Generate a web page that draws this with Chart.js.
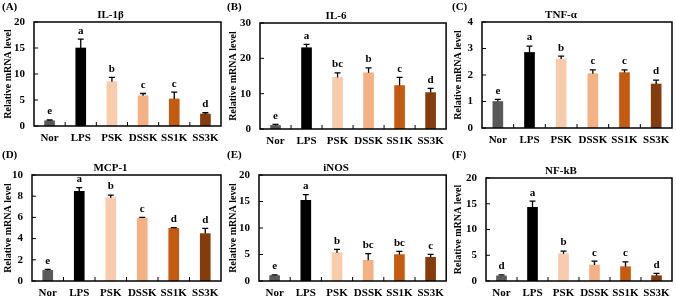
<!DOCTYPE html>
<html>
<head>
<meta charset="utf-8">
<script src="https://cdn.jsdelivr.net/npm/chart.js@4/dist/chart.umd.min.js"></script>
<style>
  body { margin: 0; background: #fff; }
  #wrap { position: relative; width: 676px; height: 299px; }
  canvas { position: absolute; }
</style>
</head>
<body>
<div id="wrap">
  <canvas id="cA" width="225" height="148" style="left:0;top:0"></canvas>
  <canvas id="cB" width="225" height="148" style="left:225px;top:0"></canvas>
  <canvas id="cC" width="226" height="148" style="left:450px;top:0"></canvas>
  <canvas id="cD" width="225" height="151" style="left:0;top:148px"></canvas>
  <canvas id="cE" width="225" height="151" style="left:225px;top:148px"></canvas>
  <canvas id="cF" width="226" height="151" style="left:450px;top:148px"></canvas>
</div>
<script>
const categories = ['Nor', 'LPS', 'PSK', 'DSSK', 'SS1K', 'SS3K'];

const il1bMean = [1.0, 15.0, 8.5, 5.8, 5.2, 2.3];
const il1bErr = [0.15, 1.7, 0.85, 0.45, 1.3, 0.25];
const il1bLetters = ['e', 'a', 'b', 'c', 'c', 'd'];

const il6Mean = [1.0, 23.0, 14.6, 15.9, 12.3, 10.3];
const il6Err = [0.3, 0.95, 1.3, 1.4, 2.3, 1.2];
const il6Letters = ['e', 'a', 'bc', 'b', 'c', 'd'];

const tnfMean = [1.0, 2.85, 2.6, 2.05, 2.09, 1.66];
const tnfErr = [0.08, 0.24, 0.11, 0.14, 0.1, 0.15];
const tnfLetters = ['e', 'a', 'b', 'c', 'c', 'd'];

const mcpMean = [1.0, 8.46, 7.86, 5.94, 4.97, 4.47];
const mcpErr = [0.1, 0.35, 0.25, 0.06, 0.06, 0.5];
const mcpLetters = ['e', 'a', 'b', 'c', 'd', 'd'];

const inosMean = [1.0, 15.2, 5.35, 3.9, 5.0, 4.47];
const inosErr = [0.15, 1.1, 0.6, 1.25, 0.6, 0.55];
const inosLetters = ['e', 'a', 'b', 'bc', 'bc', 'c'];

const nfkbMean = [1.0, 14.3, 5.3, 3.1, 2.77, 1.03];
const nfkbErr = [0.2, 1.2, 0.5, 0.75, 0.95, 0.45];
const nfkbLetters = ['d', 'a', 'b', 'c', 'c', 'd'];

const yMaxes = [20, 30, 4, 10, 20, 20];
const ySteps = [5, 10, 1, 2, 5, 5];

const barColors = ['#595959', '#000000', '#F8CBAD', '#F4B183', '#C55A11', '#843C0C'];
const serif = '"Liberation Serif", "Times New Roman", serif';

// per panel: canvas id, label, title, plot box edges inside the canvas
const panels = [
  { id: 'cA', tag: '(A)', title: 'IL-1β', mean: il1bMean, err: il1bErr, letters: il1bLetters, L: 34, R: 221, T: 22, B: 126 },
  { id: 'cB', tag: '(B)', title: 'IL-6', mean: il6Mean, err: il6Err, letters: il6Letters, L: 35, R: 222, T: 23, B: 129 },
  { id: 'cC', tag: '(C)', title: 'TNF-α', mean: tnfMean, err: tnfErr, letters: tnfLetters, L: 32, R: 222, T: 22, B: 128 },
  { id: 'cD', tag: '(D)', title: 'MCP-1', mean: mcpMean, err: mcpErr, letters: mcpLetters, L: 32, R: 221, T: 27, B: 133 },
  { id: 'cE', tag: '(E)', title: 'iNOS', mean: inosMean, err: inosErr, letters: inosLetters, L: 34, R: 222, T: 27, B: 133 },
  { id: 'cF', tag: '(F)', title: 'NF-kB', mean: nfkbMean, err: nfkbErr, letters: nfkbLetters, L: 36, R: 222, T: 30, B: 133 },
];

const decor = {
  id: 'decor',
  afterDatasetsDraw(chart, args, opts) {
    const ctx = chart.ctx;
    const { left, right, top, bottom } = chart.chartArea;
    const xs = chart.scales.x;
    const ys = chart.scales.y;
    const meta = chart.getDatasetMeta(0);
    ctx.save();
    ctx.strokeStyle = '#000';
    ctx.fillStyle = '#000';

    // error bars + letters
    ctx.lineWidth = 1.3;
    ctx.font = 'bold 11px ' + serif;
    ctx.textAlign = 'center';
    ctx.textBaseline = 'bottom';
    meta.data.forEach((bar, i) => {
      const yTop = ys.getPixelForValue(opts.mean[i] + opts.err[i]);
      const yBar = ys.getPixelForValue(opts.mean[i]);
      ctx.beginPath();
      ctx.moveTo(bar.x, yBar);
      ctx.lineTo(bar.x, yTop);
      ctx.moveTo(bar.x - 3, yTop);
      ctx.lineTo(bar.x + 3, yTop);
      ctx.stroke();
      ctx.fillText(opts.letters[i], bar.x, yTop - 3);
    });

    // plot frame
    ctx.lineWidth = 1.5;
    ctx.strokeRect(left, top, right - left, bottom - top);

    // inward ticks
    ctx.lineWidth = 1;
    ctx.beginPath();
    ys.ticks.forEach((t, i) => {
      const py = ys.getPixelForTick(i);
      ctx.moveTo(left, py);
      ctx.lineTo(left + 4, py);
    });
    for (let i = 0; i < categories.length - 1; i++) {
      const px = (xs.getPixelForTick(i) + xs.getPixelForTick(i + 1)) / 2;
      ctx.moveTo(px, bottom);
      ctx.lineTo(px, bottom - 4);
    }
    ctx.stroke();

    // panel tag
    ctx.font = 'bold 11px ' + serif;
    ctx.textAlign = 'left';
    ctx.textBaseline = 'top';
    ctx.fillText(opts.tag, 2, 2);
    ctx.restore();
  }
};

panels.forEach((p, k) => {
  const canvas = document.getElementById(p.id);
  new Chart(canvas, {
    type: 'bar',
    data: {
      labels: categories,
      datasets: [{
        data: p.mean,
        backgroundColor: barColors,
        borderWidth: 0,
        barThickness: 10,
      }],
    },
    options: {
      responsive: false,
      animation: false,
      layout: {
        padding: { top: p.T - 13.2, right: canvas.width - p.R, left: 0, bottom: 0 },
      },
      plugins: {
        legend: { display: false },
        tooltip: { enabled: false },
        title: {
          display: true,
          text: p.title,
          color: '#000',
          font: { family: serif, size: 11, weight: 'bold', lineHeight: 1.2 },
          padding: 0,
        },
        decor: { mean: p.mean, err: p.err, letters: p.letters, tag: p.tag },
      },
      scales: {
        x: {
          grid: { display: false, drawTicks: false },
          border: { display: false },
          ticks: {
            color: '#000',
            font: { family: serif, size: 11, weight: 'bold' },
            padding: 6,
            maxRotation: 0,
            minRotation: 0,
            autoSkip: false,
          },
          afterFit(scale) { scale.height = canvas.height - p.B; },
        },
        y: {
          min: 0,
          max: yMaxes[k],
          grid: { display: false, drawTicks: false },
          border: { display: false },
          ticks: {
            stepSize: ySteps[k],
            color: '#000',
            font: { family: serif, size: 11, weight: 'bold' },
            padding: 9,
          },
          title: {
            display: true,
            text: 'Relative mRNA level',
            color: '#000',
            font: { family: serif, size: 10, weight: 'bold' },
            padding: { top: 2, bottom: 0 },
          },
          afterFit(scale) { scale.width = p.L; },
        },
      },
    },
    plugins: [decor],
  });
});
</script>
</body>
</html>
